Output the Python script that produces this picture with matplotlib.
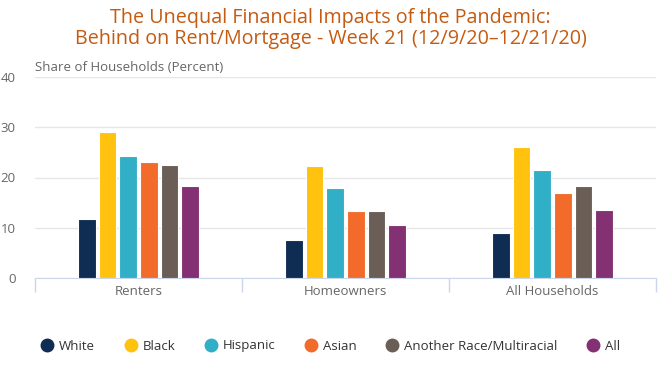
import matplotlib.pyplot as plt
import numpy as np

plt.rcParams['font.family'] = ['Open Sans', 'DejaVu Sans']

categories = ["Renters", "Homeowners", "All Households"]
groups = ["White", "Black", "Hispanic", "Asian", "Another Race/Multiracial", "All"]
colors = ["#0f2d52", "#ffc20e", "#31afc6", "#f26b2a", "#6b5e56", "#843173"]
values = {
    "White":    [11.7, 7.5, 8.9],
    "Black":    [29.0, 22.2, 26.1],
    "Hispanic": [24.3, 17.9, 21.4],
    "Asian":    [23.1, 13.3, 16.9],
    "Another Race/Multiracial": [22.4, 13.3, 18.3],
    "All":      [18.3, 10.5, 13.5],
}

fig = plt.figure(figsize=(6.61, 3.80), dpi=100)
ax = fig.add_axes([35 / 661, 1 - 278 / 380, 621 / 661, 201 / 380])

x = np.arange(len(categories))
step = 0.1
for i, g in enumerate(groups):
    ax.bar(x + (i - 2.5) * step, values[g], width=0.085, color=colors[i],
           edgecolor="white", linewidth=0.8, label=g, zorder=3)

ax.set_xlim(-0.5, 2.5)
ax.set_ylim(0, 40)
ax.set_yticks([0, 10, 20, 30, 40])
ax.yaxis.grid(True, color="#e6e6e6", linewidth=1, zorder=0)
ax.tick_params(axis="y", length=0, labelsize=9.5, labelcolor="#666666", pad=14)
ax.set_xticks(x)
ax.set_xticklabels(categories)
ax.tick_params(axis="x", length=0, labelsize=9.5, labelcolor="#666666", pad=5)
# category boundary ticks
ax.set_xticks([-0.5, 0.5, 1.5, 2.5], minor=True)
ax.tick_params(axis="x", which="minor", length=10, color="#ccd6eb", width=1)
for s in ["top", "right", "left"]:
    ax.spines[s].set_visible(False)
ax.spines["bottom"].set_color("#ccd6eb")

ax.text(0, 1.015, "Share of Households (Percent)", transform=ax.transAxes,
        fontsize=9.5, color="#666666", ha="left", va="bottom")

fig.text(0.5, 0.978, "The Unequal Financial Impacts of the Pandemic:\n"
         "Behind on Rent/Mortgage - Week 21 (12/9/20\u201312/21/20)",
         ha="center", va="top", fontsize=14.2, color="#c55a11",
         linespacing=1.05)

handles = [plt.Line2D([], [], marker="o", linestyle="", markersize=9,
                      color=c) for c in colors]
fig.legend(handles, groups, loc="center", bbox_to_anchor=(0.5, 1 - 346 / 380),
           ncol=6, frameon=False, fontsize=9.5, handletextpad=0.4,
           columnspacing=2.2, labelcolor="#333333", handlelength=1.0)

fig.savefig("out.png", dpi=100)
